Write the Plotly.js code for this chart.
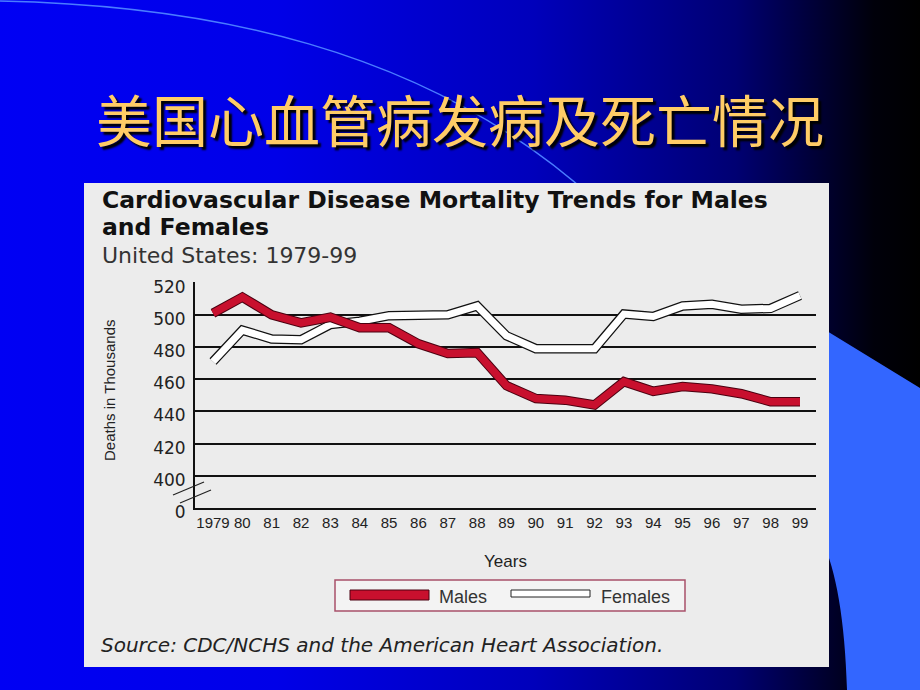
<!DOCTYPE html>
<html>
<head>
<meta charset="utf-8">
<script src="https://cdn.plot.ly/plotly-3.0.1.min.js"></script>
<style>
  html, body { margin: 0; padding: 0; width: 920px; height: 690px; overflow: hidden; }
  body {
    position: relative;
    background: linear-gradient(90deg, #0000f4 0%, #0000e8 30%, #0000bb 58%, #000072 80%, #00000a 95%, #000 100%);
  }
  #bg { position: absolute; left: 0; top: 0; }
  #chart { position: absolute; left: 0; top: 0; width: 920px; height: 690px; }
</style>
</head>
<body>
<svg id="bg" width="920" height="690">
  <path d="M0,1 C200,5 425,45 595,200" fill="none" stroke="#4a7cff" stroke-width="1.5"/>
  <path d="M822,328 L920,388 L920,690 L847,690 C845,620 836,570 822,540 Z" fill="#3366ff"/>
</svg>
<div id="chart"></div>
<script type="text/javascript">

// data (deaths in thousands)
var years = [1979, 1980, 1981, 1982, 1983, 1984, 1985, 1986, 1987, 1988, 1989,
             1990, 1991, 1992, 1993, 1994, 1995, 1996, 1997, 1998, 1999];
var yearLabels = ['1979', '80', '81', '82', '83', '84', '85', '86', '87', '88', '89',
                  '90', '91', '92', '93', '94', '95', '96', '97', '98', '99'];
var males = [501, 511, 500, 495, 498.5, 492, 492, 482, 476, 476.5, 456,
             448, 447, 444, 458.5, 452.5, 455.5, 454, 451, 446, 446];
var females = [471, 490.5, 485, 484.5, 494, 496, 499.5, 499.5, 500, 505.5, 487,
               479, 479, 479, 500.5, 499, 505.5, 506.5, 503.5, 504, 512];
// axis is broken between 0 and 400: the "0" tick sits at 380
var yTicks = [380, 400, 420, 440, 460, 480, 500, 520];
var yTickLabels = ['0', '400', '420', '440', '460', '480', '500', '520'];
var seriesNames = ['Males', 'Females'];

// plot area in page pixels, used to place the slide decorations
var L = 195, T = 282, PW = 621, PH = 226;
function px(x) { return (x - L) / PW; }
function py(y) { return (T + PH - y) / PH; }

var data = [
    {x: years, y: females, mode: 'lines', line: {color: '#111', width: 9.5},
     hoverinfo: 'skip', showlegend: false},
    {x: years, y: females, mode: 'lines', line: {color: '#ffffff', width: 7},
     name: seriesNames[1], showlegend: false},
    {x: years, y: males, mode: 'lines', line: {color: '#4a0010', width: 9.5},
     hoverinfo: 'skip', showlegend: false},
    {x: years, y: males, mode: 'lines', line: {color: '#c8102e', width: 7.5},
     name: seriesNames[0], showlegend: false}
];

var sans = 'DejaVu Sans, Verdana, sans-serif';
var arial = 'Liberation Sans, Arial, sans-serif';

// chart heading: three tight lines in one text block
var heading = '<span style="font-size:23.5px;color:#111"><b>Cardiovascular Disease Mortality Trends for Males</b></span>' +
              '<br><span style="font-size:23.5px;color:#111"><b>and Females</b></span>' +
              '<br><span style="font-size:22px">United States: 1979-99</span>';

var layout = {
    width: 920,
    height: 690,
    margin: {l: L, r: 920 - L - PW, t: T, b: 690 - T - PH},
    paper_bgcolor: 'rgba(0,0,0,0)',
    plot_bgcolor: 'rgba(0,0,0,0)',
    showlegend: false,
    title: {
        text: '美国心血管病发病及死亡情况',
        font: {family: 'Noto Sans CJK SC', size: 56, color: '#ffcc66', shadow: '3px 3px 2px #000'},
        x: 0.5, xref: 'container', xanchor: 'center',
        y: 1 - 122 / 690, yref: 'container', yanchor: 'middle'
    },
    xaxis: {
        range: [1978.387, 1999.545],
        tickvals: years,
        ticktext: yearLabels,
        ticks: '',
        showgrid: false,
        zeroline: false,
        showline: true, linecolor: '#111', linewidth: 2,
        tickfont: {family: arial, size: 15, color: '#222'},
        title: {text: 'Years', font: {family: arial, size: 17, color: '#222'}, standoff: 25},
        fixedrange: true
    },
    yaxis: {
        range: [380, 520.4],
        tickvals: yTicks,
        ticktext: yTickLabels,
        ticks: '',
        ticklabelshift: 4,
        ticklabelstandoff: 4,
        showgrid: true, gridcolor: '#111', gridwidth: 2,
        zeroline: false,
        showline: true, linecolor: '#111', linewidth: 2,
        tickfont: {family: sans, size: 17, color: '#222'},
        fixedrange: true
    },
    shapes: [
        // grey picture panel
        {type: 'rect', xref: 'paper', yref: 'paper', layer: 'below',
         x0: px(84), x1: px(829), y0: py(667), y1: py(183),
         fillcolor: '#ececec', line: {width: 0}},
        // axis break marks
        {type: 'line', xref: 'paper', yref: 'paper', x0: px(173), y0: py(495), x1: px(204), y1: py(482),
         line: {color: '#222', width: 1.2}},
        {type: 'line', xref: 'paper', yref: 'paper', x0: px(180), y0: py(503), x1: px(211), y1: py(490),
         line: {color: '#222', width: 1.2}},
        // legend box and swatches
        {type: 'rect', xref: 'paper', yref: 'paper', x0: px(335), x1: px(685), y0: py(611), y1: py(580),
         fillcolor: '#f3f3f3', line: {color: '#a8506a', width: 1.5}},
        {type: 'rect', xref: 'paper', yref: 'paper', x0: px(350), x1: px(429), y0: py(600), y1: py(590),
         fillcolor: '#c8102e', line: {color: '#4a0010', width: 1}},
        {type: 'rect', xref: 'paper', yref: 'paper', x0: px(511), x1: px(590), y0: py(597), y1: py(590),
         fillcolor: '#ffffff', line: {color: '#222', width: 1}}
    ],
    annotations: [
        {text: heading, xref: 'paper', yref: 'paper', align: 'left',
         x: px(100), y: py(227), xanchor: 'left', yanchor: 'middle', showarrow: false,
         font: {family: sans, size: 21, color: '#333'}},
        {text: 'Deaths in Thousands', xref: 'paper', yref: 'paper', textangle: -90,
         x: px(109), y: py(391), xanchor: 'center', yanchor: 'middle', showarrow: false,
         font: {family: arial, size: 15, color: '#222'}},
        {text: seriesNames[0], xref: 'paper', yref: 'paper',
         x: px(437), y: py(597), xanchor: 'left', yanchor: 'middle', showarrow: false,
         font: {family: arial, size: 18, color: '#333'}},
        {text: seriesNames[1], xref: 'paper', yref: 'paper',
         x: px(599), y: py(597), xanchor: 'left', yanchor: 'middle', showarrow: false,
         font: {family: arial, size: 18, color: '#333'}},
        {text: '<i>Source: CDC/NCHS and the American Heart Association.</i>', xref: 'paper', yref: 'paper',
         x: px(99), y: py(645), xanchor: 'left', yanchor: 'middle', showarrow: false,
         font: {family: sans, size: 20, color: '#222'}}
    ]
};

Plotly.newPlot('chart', data, layout, {displayModeBar: false, staticPlot: true});
</script>
</body>
</html>
